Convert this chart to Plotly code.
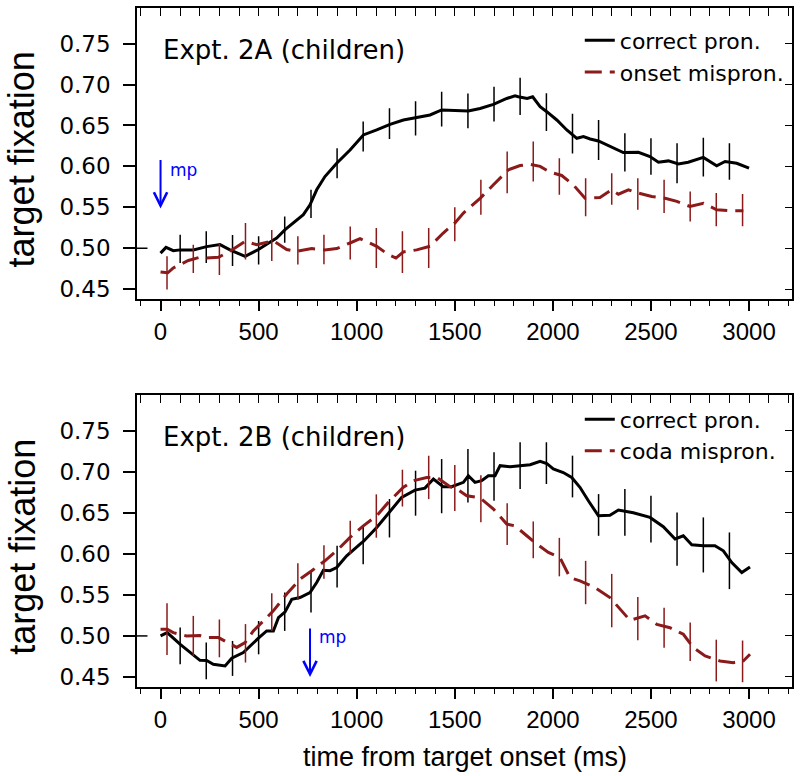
import plotly.graph_objects as go

# ---------------- data ----------------
# Panel A (Expt. 2A, children)
a_correct_x = [0, 28, 65, 100, 167, 235, 303, 354, 431, 499, 541, 592, 635, 677, 728, 762, 796, 838, 898, 966,
               1034, 1102, 1170, 1238, 1306, 1374, 1433, 1501, 1569, 1629, 1697, 1765, 1807, 1824, 1869, 1897,
               1935, 1969, 2020, 2071, 2122, 2156, 2190, 2232, 2300, 2359, 2436, 2495, 2538, 2589, 2640, 2690,
               2767, 2835, 2878, 2937, 3000]
a_correct_y = [0.494, 0.501, 0.497, 0.498, 0.498, 0.502, 0.5045, 0.498, 0.490, 0.4985, 0.505, 0.5125, 0.5227,
               0.531, 0.541, 0.553, 0.5714, 0.5876, 0.6038, 0.620, 0.6384, 0.6445, 0.6514, 0.6567, 0.6595,
               0.6628, 0.669, 0.668, 0.6676, 0.6708, 0.6757, 0.683, 0.6863, 0.6851, 0.683, 0.685, 0.673,
               0.6668, 0.6567, 0.6445, 0.6343, 0.6364, 0.6335, 0.631, 0.623, 0.6169, 0.6173, 0.612, 0.605,
               0.6067, 0.603, 0.605, 0.611, 0.6007, 0.606, 0.6038, 0.5978]

a_onset_x = [0, 37, 65, 142, 201, 235, 295, 354, 431, 490, 575, 643, 695, 771, 838, 898, 966, 1017, 1102,
             1161, 1200, 1238, 1306, 1374, 1441, 1501, 1544, 1629, 1697, 1773, 1833, 1884, 1935, 1986, 2045,
             2104, 2164, 2240, 2300, 2334, 2385, 2436, 2504, 2572, 2632, 2699, 2767, 2835, 2903, 2971]
a_onset_y = [0.471, 0.470, 0.476, 0.485, 0.489, 0.488, 0.489, 0.4963, 0.5085, 0.5044, 0.509, 0.4984, 0.4963,
             0.4996, 0.498, 0.4996, 0.5064, 0.5117, 0.5024, 0.4922, 0.488, 0.4955, 0.498, 0.5024, 0.5186,
             0.531, 0.543, 0.561, 0.5775, 0.5958, 0.601, 0.6026, 0.600, 0.5929, 0.5889, 0.5775, 0.561,
             0.562, 0.5714, 0.566, 0.5714, 0.5673, 0.5633, 0.561, 0.5572, 0.551, 0.555, 0.547, 0.5458, 0.5458]

a_correct_bar_x = [100, 233, 367, 500, 633, 767, 900, 1033, 1167, 1300, 1433, 1567, 1700, 1833, 1967, 2100,
                   2233, 2367, 2500, 2633, 2767, 2900]
a_correct_bar_y = [0.4993, 0.5014, 0.4973, 0.4973, 0.5227, 0.5541, 0.6038, 0.6364, 0.6522, 0.6587, 0.6699,
                   0.6678, 0.676, 0.6855, 0.6663, 0.640, 0.6323, 0.6171, 0.612, 0.6038, 0.6114, 0.606]
a_correct_err = [0.0173, 0.0193, 0.019, 0.0173, 0.016, 0.0173, 0.0183, 0.0183, 0.0187, 0.021, 0.0213, 0.0213,
                 0.0213, 0.0227, 0.023, 0.0244, 0.0244, 0.0234, 0.0223, 0.0244, 0.0237, 0.0223]

a_onset_bar_x = [33, 167, 300, 433, 567, 700, 833, 967, 1100, 1233, 1367, 1500, 1633, 1767, 1900, 2033,
                 2167, 2300, 2433, 2567, 2700, 2833, 2967]
a_onset_bar_y = [0.4699, 0.4871, 0.4862, 0.5085, 0.5034, 0.4973, 0.4984, 0.5064, 0.5003, 0.4953, 0.5003,
                 0.5293, 0.5623, 0.5927, 0.6060, 0.5876, 0.5623, 0.5724, 0.5663, 0.5633, 0.5511, 0.5471, 0.5465]
a_onset_err = [0.0203, 0.0173, 0.019, 0.0223, 0.019, 0.0173, 0.018, 0.0203, 0.0244, 0.0254, 0.0244, 0.0208,
               0.0213, 0.0254, 0.0244, 0.0223, 0.0233, 0.0193, 0.0193, 0.0203, 0.0183, 0.0203, 0.0197]

# Panel B (Expt. 2B, children)
b_correct_x = [0, 34, 99, 150, 201, 235, 269, 329, 363, 422, 465, 499, 541, 575, 601, 635, 669, 711, 762,
               796, 830, 864, 898, 949, 1017, 1034, 1102, 1161, 1229, 1297, 1348, 1391, 1441, 1484, 1518,
               1544, 1569, 1603, 1637, 1671, 1705, 1731, 1782, 1884, 1935, 1969, 2002, 2053, 2096, 2138,
               2181, 2232, 2291, 2334, 2410, 2495, 2563, 2623, 2665, 2708, 2767, 2826, 2869, 2912, 2963, 3005]
b_correct_y = [0.500, 0.504, 0.4899, 0.4797, 0.4703, 0.470, 0.4655, 0.4634, 0.4728, 0.4797, 0.490, 0.4972,
               0.506, 0.506, 0.5223, 0.5293, 0.5447, 0.5467, 0.5528, 0.565, 0.580, 0.5795, 0.5833, 0.5976,
               0.6118, 0.615, 0.632, 0.6484, 0.6687, 0.6776, 0.680, 0.6911, 0.6817, 0.6817, 0.685, 0.687,
               0.695, 0.687, 0.689, 0.695, 0.695, 0.7073, 0.706, 0.7085, 0.7126, 0.710, 0.7033, 0.699, 0.693,
               0.681, 0.6646, 0.6463, 0.647, 0.6533, 0.650, 0.6443, 0.633, 0.618, 0.622, 0.611, 0.6098,
               0.6098, 0.6037, 0.5894, 0.5772, 0.584]

b_coda_x = [0, 34, 65, 133, 201, 235, 295, 354, 388, 431, 473, 541, 575, 643, 711, 771, 838, 898, 966, 1034,
            1102, 1161, 1238, 1289, 1357, 1408, 1476, 1510, 1561, 1629, 1697, 1765, 1807, 1867, 1918, 1977,
            2036, 2087, 2138, 2215, 2291, 2393, 2470, 2530, 2597, 2665, 2716, 2776, 2852, 2920, 2971, 3005]
b_coda_y = [0.5082, 0.5082, 0.504, 0.500, 0.5004, 0.498, 0.498, 0.490, 0.486, 0.4918, 0.506, 0.5223, 0.5305,
            0.551, 0.5691, 0.5793, 0.5915, 0.6037, 0.620, 0.6341, 0.6463, 0.6626, 0.681, 0.689, 0.693, 0.693,
            0.6817, 0.679, 0.6707, 0.668, 0.6545, 0.6362, 0.634, 0.622, 0.6118, 0.6016, 0.5955, 0.5711,
            0.567, 0.5589, 0.5467, 0.519, 0.5244, 0.514, 0.510, 0.502, 0.4857, 0.4756, 0.4695, 0.4675,
            0.4695, 0.4777]

b_correct_bar_x = [100, 233, 367, 500, 633, 767, 900, 1033, 1167, 1300, 1433, 1567, 1700, 1833, 1967, 2100,
                   2233, 2367, 2500, 2633, 2767, 2900]
b_correct_bar_y = [0.4878, 0.4695, 0.4726, 0.4979, 0.5295, 0.5539, 0.5844, 0.6108, 0.6433, 0.6738, 0.6824,
                   0.6951, 0.6941, 0.7073, 0.7104, 0.6941, 0.6473, 0.6504, 0.6423, 0.6179, 0.6108, 0.5915]
b_correct_err = [0.0224, 0.0224, 0.0213, 0.0203, 0.0234, 0.0254, 0.0254, 0.0234, 0.0234, 0.0274, 0.033,
                 0.0325, 0.0295, 0.0285, 0.0254, 0.0254, 0.0254, 0.0285, 0.0285, 0.0325, 0.0335, 0.0345]

b_coda_bar_x = [33, 167, 300, 433, 567, 700, 833, 967, 1100, 1233, 1367, 1500, 1633, 1767, 1900, 2033,
                2167, 2300, 2433, 2567, 2700, 2833, 2967]
b_coda_bar_y = [0.5082, 0.500, 0.497, 0.491, 0.529, 0.566, 0.590, 0.620, 0.646, 0.680, 0.693, 0.680, 0.667,
                0.636, 0.617, 0.596, 0.565, 0.543, 0.521, 0.510, 0.493, 0.470, 0.4690]
b_coda_err = [0.0315, 0.0244, 0.023, 0.0234, 0.023, 0.0224, 0.0203, 0.0203, 0.0264, 0.0224, 0.0264, 0.028,
              0.0285, 0.0254, 0.0224, 0.0234, 0.0264, 0.0325, 0.0264, 0.0244, 0.0234, 0.0254, 0.0254]

mp_time_a = 0
mp_time_b = 762

y_ticks = [0.45, 0.50, 0.55, 0.60, 0.65, 0.70, 0.75]
y_tick_text = ["0.45", "0.50", "0.55", "0.60", "0.65", "0.70", "0.75"]
x_ticks = [0, 500, 1000, 1500, 2000, 2500, 3000]

panel_a_label = "Expt. 2A (children)"
panel_b_label = "Expt. 2B (children)"
legend_correct = "correct pron."
legend_onset = "onset mispron."
legend_coda = "coda mispron."
y_title = "target fixation"
x_title = "time from target onset (ms)"

# ---------------- styling ----------------
BLACK = "#000000"
RED = "#8B1A1A"
BLUE = "#0000FF"
DASH = "17px,8px"
XR = [-120, 3219]
YR = [0.4378, 0.7935]
SANS = "Liberation Sans, Arial, sans-serif"
WIDE = "DejaVu Sans, Verdana, sans-serif"

fig = go.Figure()


def add_panel(xa, ya, lx, ly, bx, by, be, rx, ry, rbx, rby, rbe, red_name, legend):
    fig.add_trace(go.Scatter(x=lx, y=ly, mode="lines", name=legend_correct,
                             line=dict(color=BLACK, width=3), xaxis=xa, yaxis=ya, legend=legend))
    fig.add_trace(go.Scatter(x=bx, y=by, mode="markers", showlegend=False, hoverinfo="skip",
                             marker=dict(size=1, color="rgba(0,0,0,0)"),
                             error_y=dict(type="data", array=be, symmetric=True, width=0,
                                          thickness=1.5, color=BLACK),
                             xaxis=xa, yaxis=ya))
    fig.add_trace(go.Scatter(x=rx, y=ry, mode="lines", name=red_name,
                             line=dict(color=RED, width=3, dash=DASH), xaxis=xa, yaxis=ya, legend=legend))
    fig.add_trace(go.Scatter(x=rbx, y=rby, mode="markers", showlegend=False, hoverinfo="skip",
                             marker=dict(size=1, color="rgba(0,0,0,0)"),
                             error_y=dict(type="data", array=rbe, symmetric=True, width=0,
                                          thickness=1.5, color=RED),
                             xaxis=xa, yaxis=ya))


add_panel("x", "y", a_correct_x, a_correct_y, a_correct_bar_x, a_correct_bar_y, a_correct_err,
          a_onset_x, a_onset_y, a_onset_bar_x, a_onset_bar_y, a_onset_err, legend_onset, "legend")
add_panel("x2", "y2", b_correct_x, b_correct_y, b_correct_bar_x, b_correct_bar_y, b_correct_err,
          b_coda_x, b_coda_y, b_coda_bar_x, b_coda_bar_y, b_coda_err, legend_coda, "legend2")

# empty traces so the inward-tick overlay axes are created
for xa, ya in [("x3", "y"), ("x", "y3"), ("x4", "y2"), ("x2", "y4")]:
    fig.add_trace(go.Scatter(x=[], y=[], xaxis=xa, yaxis=ya, showlegend=False, hoverinfo="skip"))

dom_a = [0.5712, 1.0]
dom_b = [0.0, 0.4302]

xaxis_common = dict(range=XR, tickvals=x_ticks, ticks="outside", ticklen=10, tickwidth=1.5,
                    tickcolor=BLACK, showline=True, linecolor=BLACK, linewidth=1.5, mirror=True,
                    showgrid=False, zeroline=False,
                    minor=dict(dtick=100, tick0=0, ticks="outside", ticklen=5, tickwidth=1.2,
                               tickcolor=BLACK, showgrid=False),
                    tickfont=dict(family=SANS, size=24, color=BLACK))
yaxis_common = dict(range=YR, tickvals=y_ticks, ticktext=y_tick_text, ticks="outside", ticklen=12,
                    tickwidth=1.5, tickcolor=BLACK, showline=True, linecolor=BLACK, linewidth=1.5,
                    mirror=True, showgrid=False, zeroline=False, ticklabelstandoff=8,
                    tickfont=dict(family=WIDE, size=23, color=BLACK))
top_inner = dict(range=XR, dtick=100, tick0=0, ticks="inside", ticklen=8, tickwidth=1.2,
                 tickcolor=BLACK, showticklabels=False, showgrid=False, zeroline=False, showline=False,
                 side="top")
right_inner = dict(range=YR, tickvals=y_ticks, ticks="inside", ticklen=7, tickwidth=1.2,
                   tickcolor=BLACK, showticklabels=False, showgrid=False, zeroline=False,
                   showline=False, side="right")

legend_style = dict(xanchor="left", yanchor="top", bgcolor="rgba(0,0,0,0)",
                    font=dict(family=WIDE, size=22, color=BLACK), itemwidth=30, tracegroupgap=0)

fig.update_layout(
    width=800, height=776,
    margin=dict(l=137, r=8, t=6, b=89),
    paper_bgcolor="white", plot_bgcolor="white",
    xaxis=dict(domain=[0, 1], anchor="y", **xaxis_common),
    yaxis=dict(domain=dom_a, anchor="x", **yaxis_common),
    xaxis2=dict(domain=[0, 1], anchor="y2", **xaxis_common),
    yaxis2=dict(domain=dom_b, anchor="x2", **yaxis_common),
    xaxis3=dict(overlaying="x", anchor="y", **top_inner),
    yaxis3=dict(overlaying="y", anchor="x", **right_inner),
    xaxis4=dict(overlaying="x2", anchor="y2", **top_inner),
    yaxis4=dict(overlaying="y2", anchor="x2", **right_inner),
    legend=dict(x=0.676, y=0.9830, **legend_style),
    legend2=dict(x=0.676, y=0.4250, **legend_style),
    showlegend=True,
)

annotations = []
# panel labels
annotations.append(dict(text=panel_a_label, xref="x domain", yref="y domain", x=0.0362, y=0.856,
                        xanchor="left", yanchor="middle", showarrow=False,
                        font=dict(family=WIDE, size=26, color=BLACK)))
annotations.append(dict(text=panel_b_label, xref="x2 domain", yref="y2 domain", x=0.0362, y=0.8565,
                        xanchor="left", yanchor="middle", showarrow=False,
                        font=dict(family=WIDE, size=26, color=BLACK)))
# mp arrows
for xr, yr, mp_x, tip in [("x", "y domain", mp_time_a, 0.3116), ("x2", "y2 domain", mp_time_b, 0.0342)]:
    annotations.append(dict(text="", xref=xr, yref=yr, x=mp_x, y=tip, ax=0, ay=-50,
                            showarrow=True, arrowhead=5, arrowsize=1.3, arrowwidth=2,
                            arrowcolor=BLUE))
annotations.append(dict(text="mp", xref="x", yref="y domain", x=mp_time_a, y=0.445, xshift=7,
                        xanchor="left", yanchor="middle", showarrow=False,
                        font=dict(family=WIDE, size=17, color=BLUE)))
annotations.append(dict(text="mp", xref="x2", yref="y2 domain", x=mp_time_b, y=0.1708, xshift=7,
                        xanchor="left", yanchor="middle", showarrow=False,
                        font=dict(family=WIDE, size=17, color=BLUE)))
# axis titles
for yr in ["y domain", "y2 domain"]:
    annotations.append(dict(text=y_title, xref="paper", yref=yr, x=-0.176, y=0.479, textangle=-90,
                            xanchor="center", yanchor="middle", showarrow=False,
                            font=dict(family=SANS, size=36, color=BLACK)))
annotations.append(dict(text=x_title, xref="paper", yref="paper", x=0.5, y=-0.1024,
                        xanchor="center", yanchor="middle", showarrow=False,
                        font=dict(family=SANS, size=27, color=BLACK)))
fig.update_layout(annotations=annotations)

# short inward extension of the 0.50 tick
for xr, yr in [("x domain", "y"), ("x2 domain", "y2")]:
    fig.add_shape(type="line", xref=xr, yref=yr, x0=0, x1=0.016, y0=0.5, y1=0.5,
                  line=dict(color=BLACK, width=1.5))

fig.write_html("out.html", config={"displayModeBar": False},
               post_script="document.body.style.margin='0px';document.body.style.padding='0px';")
